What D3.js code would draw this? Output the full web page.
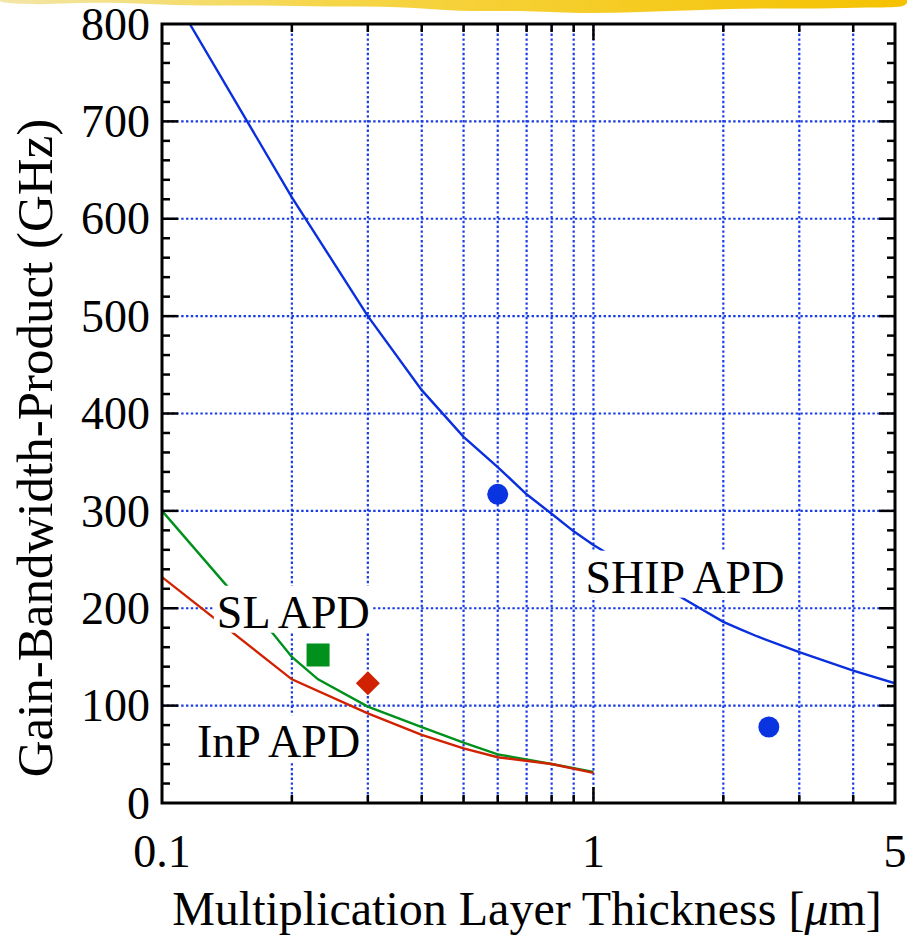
<!DOCTYPE html>
<html>
<head>
<meta charset="utf-8">
<script src="https://cdn.jsdelivr.net/npm/d3@7"></script>
<style>
  body { margin: 0; background: #fff; }
  svg text { font-family: "Liberation Serif", "Times New Roman", serif; fill: #000; }
</style>
</head>
<body>
<div class="canvas"></div>
<script>
// data
const shipCurve = [[0.116, 800], [0.2, 622], [0.3, 500], [0.4, 424], [0.5, 376], [0.6, 345], [0.7, 317],
  [0.8, 297], [0.9, 279], [1.0, 265], [1.2, 244], [1.4, 226], [1.6, 211], [2.0, 186], [2.2, 178],
  [2.4, 171], [3.0, 155], [4.0, 136], [5.0, 123]];
const slCurve = [[0.1, 300], [0.142, 222], [0.18, 175], [0.2, 150], [0.23, 127], [0.3, 99], [0.4, 78],
  [0.5, 62], [0.6, 50], [0.8, 40], [1.0, 32]];
const inpCurve = [[0.1, 232], [0.2, 127], [0.3, 92], [0.4, 70], [0.5, 56], [0.6, 47], [0.8, 40], [1.0, 31]];
const shipPoints = [[0.6, 317], [2.55, 78]];
const slPoint = [[0.23, 152]];
const inpPoint = [[0.3, 123]];
const xTickLabels = [0.1, 1, 5];
const xGridValues = [0.2, 0.3, 0.4, 0.5, 0.6, 0.7, 0.8, 0.9, 1, 2, 3, 4];
const yTickLabels = [0, 100, 200, 300, 400, 500, 600, 700, 800];
const curveLabels = [
  { text: "SHIP APD", x: 0.958, y: 216 },
  { text: "SL APD", x: 0.134, y: 180 },
  { text: "InP APD", x: 0.1205, y: 47 }
];

// margins and dimensions
const w = 907;
const h = 939;
const margin = { top: 24, right: 12, bottom: 136, left: 162 };
const graphWidth = w - margin.left - margin.right;
const graphHeight = h - margin.top - margin.bottom;
const fontSize = 46;
const gridBlue = "#1a3ce6";

const svg = d3.select(".canvas").append("svg").attr("width", w).attr("height", h);

// yellow strip of the slide at the very top
const banner = svg.append("defs").append("linearGradient").attr("id", "banner");
banner.append("stop").attr("offset", "0%").attr("stop-color", "#f3e6a8");
banner.append("stop").attr("offset", "35%").attr("stop-color", "#f6d64a");
banner.append("stop").attr("offset", "100%").attr("stop-color", "#f5c200");
const bannerEdge = [[0, 3], [40, 5], [90, 2], [150, 4], [200, 6], [260, 5], [330, 7], [400, 6], [460, 12],
  [520, 10], [580, 14], [640, 12], [700, 10], [760, 8], [820, 9], [870, 7], [907, 8]];
svg.append("path")
  .attr("d", d3.line().curve(d3.curveBasis)([[0, 0], ...bannerEdge, [907, 0]]))
  .attr("fill", "url(#banner)");

const graph = svg.append("g").attr("transform", `translate(${margin.left}, ${margin.top})`);

const x = d3.scaleLog().domain([0.1, 5]).range([0, graphWidth]);
const y = d3.scaleLinear().domain([0, 800]).range([graphHeight, 0]);

graph.append("clipPath").attr("id", "clip")
  .append("rect").attr("width", graphWidth).attr("height", graphHeight);

// dotted grid
graph.append("g").selectAll("line")
  .data(xGridValues).enter().append("line")
  .attr("x1", (d) => x(d)).attr("x2", (d) => x(d))
  .attr("y1", 0).attr("y2", graphHeight)
  .attr("stroke", gridBlue).attr("stroke-width", 2.2).attr("stroke-dasharray", "2.4,2.4");
graph.append("g").selectAll("line")
  .data(yTickLabels.filter((d) => d > 0 && d < 800)).enter().append("line")
  .attr("y1", (d) => y(d)).attr("y2", (d) => y(d))
  .attr("x1", 0).attr("x2", graphWidth)
  .attr("stroke", gridBlue).attr("stroke-width", 2.2).attr("stroke-dasharray", "2.4,2.4");

// curves
const line = d3.line().x((d) => x(d[0])).y((d) => y(d[1]));
const curves = graph.append("g").attr("clip-path", "url(#clip)");
[[shipCurve, "#0a2fdc"], [slCurve, "#00901c"], [inpCurve, "#d02200"]].forEach(([data, color]) => {
  curves.append("path").datum(data).attr("d", line)
    .attr("fill", "none").attr("stroke", color).attr("stroke-width", 2.4);
});

// labels sit on white boxes that hide the lines behind them
curveLabels.forEach((d) => {
  const g = graph.append("g");
  const box = g.append("rect").attr("fill", "#fff");
  const t = g.append("text").attr("x", x(d.x)).attr("y", y(d.y)).attr("font-size", fontSize).text(d.text);
  const b = t.node().getBBox();
  box.attr("x", b.x - 3).attr("y", y(d.y) - 42).attr("width", b.width + 6).attr("height", 47);
});

// markers
graph.selectAll(".ship").data(shipPoints).enter().append("circle")
  .attr("cx", (d) => x(d[0])).attr("cy", (d) => y(d[1])).attr("r", 10.5).attr("fill", "#0a34e0");
graph.selectAll(".sl").data(slPoint).enter().append("rect")
  .attr("x", (d) => x(d[0]) - 11.5).attr("y", (d) => y(d[1]) - 11.5)
  .attr("width", 23).attr("height", 23).attr("fill", "#00901c");
const diamond = (r) => `M0,${-r}L${r},0L0,${r}L${-r},0Z`;
graph.selectAll(".inp").data(inpPoint).enter().append("path")
  .attr("d", diamond(12))
  .attr("transform", (d) => `translate(${x(d[0])}, ${y(d[1])})`)
  .attr("fill", "#d02200");

// ticks: inward, minor every 20 on y, at grid values on x
const yMinor = d3.range(20, 800, 20);
const tickG = graph.append("g").attr("stroke", "#000").attr("stroke-width", 2.5);
yMinor.forEach((v) => {
  const len = v % 100 === 0 ? 16 : 8;
  tickG.append("line").attr("x1", 0).attr("x2", len).attr("y1", y(v)).attr("y2", y(v));
  tickG.append("line").attr("x1", graphWidth).attr("x2", graphWidth - len).attr("y1", y(v)).attr("y2", y(v));
});
xGridValues.forEach((v) => {
  const len = v === 1 ? 16 : 8;
  tickG.append("line").attr("x1", x(v)).attr("x2", x(v)).attr("y1", graphHeight).attr("y2", graphHeight - len);
  tickG.append("line").attr("x1", x(v)).attr("x2", x(v)).attr("y1", 0).attr("y2", len);
});

// frame
graph.append("rect").attr("width", graphWidth).attr("height", graphHeight)
  .attr("fill", "none").attr("stroke", "#000").attr("stroke-width", 3);

// tick labels
graph.append("g").selectAll("text").data(yTickLabels).enter().append("text")
  .attr("x", -12).attr("y", (d) => y(d)).attr("dy", "0.34em")
  .attr("text-anchor", "end").attr("font-size", fontSize).text((d) => d);
graph.append("g").selectAll("text").data(xTickLabels).enter().append("text")
  .attr("x", (d) => x(d)).attr("y", graphHeight + 64)
  .attr("text-anchor", "middle").attr("font-size", fontSize).text((d) => d);

// axis titles
svg.append("text")
  .attr("x", 527).attr("y", 925)
  .attr("text-anchor", "middle").attr("font-size", 48)
  .html('Multiplication Layer Thickness [<tspan font-style="italic">μ</tspan>m]');
svg.append("text")
  .attr("transform", "translate(52, 448) rotate(-90)")
  .attr("text-anchor", "middle").attr("font-size", 51)
  .text("Gain-Bandwidth-Product (GHz)");
</script>
</body>
</html>
